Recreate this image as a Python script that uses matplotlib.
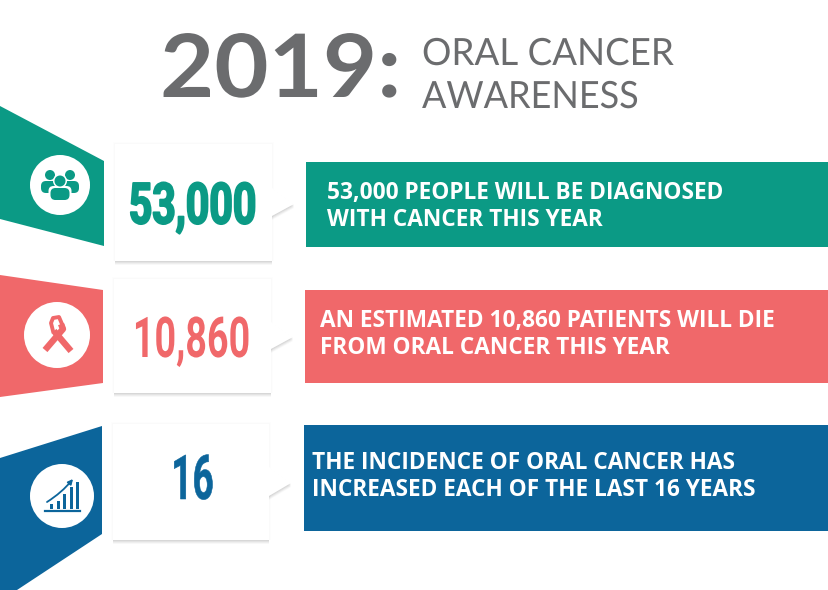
"""Oral cancer awareness infographic, drawn in pixel coordinates."""

import matplotlib

matplotlib.use("Agg")
import matplotlib.patches as mpatches
import matplotlib.patheffects as pe
import matplotlib.pyplot as plt
from matplotlib.transforms import Affine2D

WIDTH, HEIGHT = 829, 590

TITLE_YEAR = "2019:"
TITLE_LINES = ["ORAL CANCER", "AWARENESS"]
NUMBERS = ["53,000", "10,860", "16"]
MESSAGES = [
    "53,000 PEOPLE WILL BE DIAGNOSED\nWITH CANCER THIS YEAR",
    "AN ESTIMATED 10,860 PATIENTS WILL DIE\nFROM ORAL CANCER THIS YEAR",
    "THE INCIDENCE OF ORAL CANCER HAS\nINCREASED EACH OF THE LAST 16 YEARS",
]
COLORS = ["#0b9a85", "#f0686a", "#0c659b"]
GREY = "#6b6c6e"
ICON_BARS = [5, 8, 15, 22, 27]


class Stretched(pe.AbstractPathEffect):
    """Scale a text horizontally around display x = cx (no condensed font installed)."""

    def __init__(self, cx, sx, stroke=0):
        super().__init__()
        self.cx, self.sx, self.stroke = cx, sx, stroke

    def draw_path(self, renderer, gc, tpath, affine, rgbFace=None):
        squeeze = Affine2D().translate(-self.cx, 0).scale(self.sx, 1).translate(self.cx, 0)
        if self.stroke:
            gc0 = renderer.new_gc()
            gc0.copy_properties(gc)
            gc0.set_linewidth(self.stroke)
            gc0.set_foreground(rgbFace)
            renderer.draw_path(gc0, tpath, affine + squeeze, rgbFace)
            gc0.restore()
        else:
            renderer.draw_path(gc, tpath, affine + squeeze, rgbFace)


def poly(ax, pts, color, **kw):
    ax.add_patch(mpatches.Polygon(pts, closed=True, facecolor=color, edgecolor="none", **kw))


def card(ax, x0, x1, y0, y1, tip_y0, tip_y, tip_y1, tip_x):
    pts = [(x0, y0), (x1, y0), (x1, tip_y0), (tip_x, tip_y), (x1, tip_y1), (x1, y1), (x0, y1)]
    # soft shadow under the card
    for off, alpha in [(4, 0.04), (3, 0.06), (2, 0.07), (1, 0.08)]:
        shadow = [(px, py + off) for px, py in pts]
        poly(ax, shadow, "#555555", alpha=alpha, zorder=2)
    for off, alpha in [(-1, 0.015), (-2, 0.01)]:
        halo = [(x0 + off, y0 + off), (x1 - off, y0 + off), (x1 - off, y1), (x0 + off, y1)]
        poly(ax, halo, "#555555", alpha=alpha, zorder=2)
    poly(ax, pts, "white", zorder=3)


def body(ax, cx, top, half, bottom, color):
    ax.add_patch(mpatches.FancyBboxPatch((cx - half, top), 2 * half, bottom - top,
                 boxstyle="round,pad=0,rounding_size=5", fc=color, ec="none", zorder=5))


def people_icon(ax, color):
    for cx in (50, 70):
        ax.add_patch(mpatches.Circle((cx, 175), 5, fc=color, ec="none", zorder=5))
        body(ax, cx, 181, 9, 193, color)
    # white outline separates the front figure from the two behind
    ax.add_patch(mpatches.Circle((60, 181), 7, fc="white", ec="none", zorder=5))
    body(ax, 60, 186, 11.5, 202, "white")
    ax.add_patch(mpatches.Circle((60, 181), 5.5, fc=color, ec="none", zorder=5))
    body(ax, 60, 188, 9.5, 200, color)


def ribbon_icon(ax, color):
    ax.plot([45, 63, 61], [350, 329, 324], color=color, lw=4.6, solid_capstyle="butt", zorder=5)
    ax.plot([53, 51, 53, 59, 62], [331, 323, 318, 317, 324], color=color, lw=2.8, zorder=5)
    ax.plot([54, 71], [331, 351], color=color, lw=4.6, solid_capstyle="butt", zorder=5)


def chart_icon(ax, color):
    base = 509
    ax.plot([45, 80], [511, 511], color=color, lw=1.6, zorder=5)
    for left, h in zip([50.5, 57, 63.5, 70, 76], ICON_BARS):
        ax.add_patch(mpatches.Rectangle((left, base - h), 3, h, fc=color, ec="none", zorder=5))
    ax.annotate("", xy=(73, 479), xytext=(47, 502), zorder=5,
                arrowprops=dict(arrowstyle="-|>", color=color, lw=1.3, mutation_scale=7,
                                connectionstyle="arc3,rad=0.08", shrinkA=0, shrinkB=0))


def main():
    fig = plt.figure(figsize=(WIDTH / 100, HEIGHT / 100), dpi=100)
    ax = fig.add_axes([0, 0, 1, 1])
    ax.set_xlim(0, WIDTH)
    ax.set_ylim(HEIGHT, 0)
    ax.axis("off")

    # Title
    ax.text(160, 97, TITLE_YEAR, fontsize=63, fontweight="bold", family="Lato", color=GREY,
            ha="left", va="baseline", path_effects=[Stretched(160, 1.07)])
    ax.text(422, 65, TITLE_LINES[0], fontsize=27, family="Lato", color=GREY, va="baseline",
            path_effects=[Stretched(422, 0.98)])
    ax.text(422, 108, TITLE_LINES[1], fontsize=27, family="Lato", color=GREY, va="baseline",
            path_effects=[Stretched(422, 0.96)])

    # Side wedges
    poly(ax, [(0, 106), (104, 161), (104, 246), (0, 219)], COLORS[0])
    poly(ax, [(0, 275), (103, 290), (103, 383), (0, 397)], COLORS[1])
    poly(ax, [(0, 458), (102, 426), (102, 534), (17, 590), (0, 590)], COLORS[2])

    # Icon discs
    for (cx, cy, r) in [(60, 185, 30), (57, 335, 33), (62, 496, 32)]:
        ax.add_patch(mpatches.Circle((cx, cy), r, fc="white", ec="none", zorder=4))
    people_icon(ax, COLORS[0])
    ribbon_icon(ax, COLORS[1])
    chart_icon(ax, COLORS[2])

    # Number cards
    card(ax, 115, 272, 144, 261, 188, 204, 216, 294)
    card(ax, 114, 271, 279, 393, 322, 337, 349, 293)
    card(ax, 113, 269, 424, 540, 467, 483, 496, 291)

    # x, baseline, font size, horizontal scale, extra stroke
    placed = [(192.5, 223.5, 41, 0.72, 1.4), (191.5, 357, 40.5, 0.67, 0), (192.5, 499, 44.5, 0.60, 0.4)]
    for num, color, (x, y, size, sx, stroke) in zip(NUMBERS, COLORS, placed):
        ax.text(x, y, num, fontsize=size, fontweight="bold", family="Roboto", color=color,
                ha="center", va="baseline", zorder=6, path_effects=[Stretched(x, sx, stroke)])

    # Message banners
    banners = [(306, 162, 247), (305, 290, 383), (304, 425, 531)]
    text_x = [327, 320, 312]
    text_y = [206.5, 334.5, 476.5]
    for (x0, y0, y1), color, msg, tx, ty in zip(banners, COLORS, MESSAGES, text_x, text_y):
        ax.add_patch(mpatches.Rectangle((x0, y0), WIDTH - x0, y1 - y0, fc=color, ec="none", zorder=1))
        ax.text(tx, ty, msg, fontsize=16.25, fontweight="bold", family="Open Sans",
                color="white", ha="left", va="center", linespacing=1.22, zorder=6)

    fig.savefig("out.png", dpi=100)


if __name__ == "__main__":
    main()
